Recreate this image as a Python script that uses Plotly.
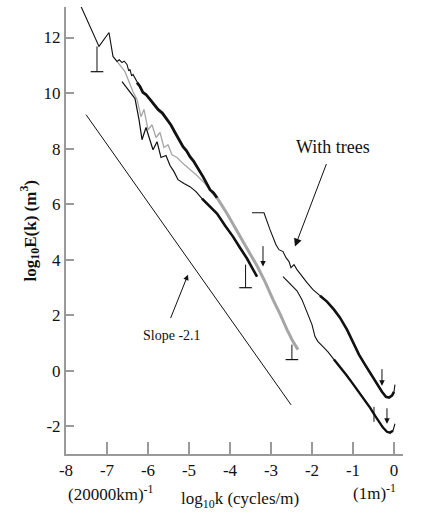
import plotly.graph_objects as go

# ---------------- data ----------------
# Upper black spectrum (top-left, ends near x=-4.3)
upper_x = [-7.634, -7.195, -6.951, -6.854, -6.756, -6.700, -6.634, -6.580, -6.512, -6.470, -6.439, -6.400,
           -6.366, -6.320, -6.268, -6.200, -6.122, -6.050, -5.951, -5.860, -5.756, -5.650, -5.537, -5.440,
           -5.341, -5.250, -5.146, -5.060, -4.976, -4.890, -4.805, -4.730, -4.659, -4.570, -4.488, -4.400, -4.317]
upper_y = [13.12, 11.68, 12.18, 11.32, 11.14, 11.20, 11.10, 11.15, 11.03, 10.80, 10.85, 10.62,
           10.67, 10.55, 10.38, 10.25, 10.02, 9.95, 9.77, 9.60, 9.41, 9.28, 9.05, 8.85,
           8.58, 8.35, 8.07, 7.92, 7.71, 7.55, 7.35, 7.18, 6.99, 6.75, 6.52, 6.40, 6.23]

# Grey spectrum
grey_x = [-6.756, -6.561, -6.366, -6.268, -6.171, -6.098, -6.000, -5.902, -5.805, -5.707, -5.610, -5.512,
          -5.415, -5.293, -5.146, -4.976, -4.805, -4.610, -4.439, -4.317, -4.073, -3.829, -3.585, -3.341,
          -3.146, -2.951, -2.780, -2.610, -2.463, -2.341]
grey_y = [11.14, 10.77, 10.05, 9.77, 9.15, 9.41, 8.68, 8.86, 8.40, 8.58, 8.04, 8.14,
          7.78, 7.68, 7.46, 7.24, 7.03, 6.74, 6.45, 6.23, 5.66, 5.01, 4.40, 3.78,
          3.21, 2.56, 2.05, 1.48, 1.05, 0.76]

# Lower black spectrum
lower_x = [-6.634, -6.488, -6.317, -6.220, -6.146, -6.049, -5.951, -5.878, -5.780, -5.683, -5.561, -5.463,
           -5.366, -5.268, -5.122, -4.976, -4.829, -4.683, -4.512, -4.317, -4.122, -3.927, -3.756, -3.585,
           -3.463, -3.341]
lower_y = [10.41, 10.13, 9.80, 9.05, 8.32, 8.76, 8.32, 7.96, 8.25, 7.68, 7.75, 7.39,
           7.17, 6.88, 6.74, 6.63, 6.45, 6.20, 5.95, 5.66, 5.23, 4.83, 4.43, 4.04,
           3.71, 3.39]

# "With trees" spectrum (upper right)
trees_x = [-3.463, -3.171, -3.024, -2.878, -2.805, -2.707, -2.634, -2.561, -2.512, -2.439, -2.366, -2.244,
           -2.122, -1.976, -1.805, -1.634, -1.463, -1.317, -1.146, -1.000, -0.854, -0.707, -0.561, -0.415,
           -0.293, -0.195, -0.122, -0.049, 0.000, 0.024]
trees_y = [5.69, 5.69, 5.08, 4.54, 4.36, 4.29, 4.07, 3.93, 3.71, 3.82, 3.64, 3.39,
           3.17, 2.92, 2.70, 2.49, 2.20, 1.91, 1.48, 1.05, 0.58, 0.22, -0.14, -0.50,
           -0.76, -0.94, -0.97, -0.90, -0.76, -0.50]

# Lower right spectrum (without trees)
bare_x = [-2.707, -2.537, -2.366, -2.244, -2.146, -2.073, -2.000, -1.927, -1.854, -1.756, -1.610, -1.463,
          -1.317, -1.171, -1.024, -0.878, -0.732, -0.585, -0.463, -0.366, -0.268, -0.171, -0.098, -0.024, 0.024]
bare_y = [3.39, 3.14, 2.88, 2.56, 2.20, 1.91, 1.66, 1.23, 1.05, 0.90, 0.68, 0.40,
          0.14, -0.14, -0.43, -0.72, -1.01, -1.33, -1.62, -1.84, -2.05, -2.20, -2.23, -2.16, -1.91]

# Reference line of slope -2.1
slope_x = [-7.51, -2.51]
slope_y = [9.22, -1.23]

# Error bars (x, top, bottom)
err_x = [-7.244, -3.620, -2.490]
err_top = [11.68, 3.82, 0.94]
err_bottom = [10.77, 2.99, 0.40]

# Small down arrows (x, tail y, head y)
darrow_x = [-3.195, -0.293, -0.171]
darrow_tail = [4.54, 0.11, -1.30]
darrow_head = [3.75, -0.54, -1.91]

# small vertical mark on lower curve
mark_x = [-0.488]
mark_top = [-1.30]
mark_bottom = [-1.84]

x_ticks = [-8, -7, -6, -5, -4, -3, -2, -1, 0]
x_ticktext = ["-8", "-7", "-6", "-5", "-4", "-3", "-2", "-1", "0"]
y_ticks = [-2, 0, 2, 4, 6, 8, 10, 12]
y_ticktext = ["-2", "0", "2", "4", "6", "8", "10", "12"]

FONT = "Liberation Serif, Times New Roman, serif"
BLACK = "#111111"
GREY = "#a6a6a6"
AXIS = "#9a9a9a"

fig = go.Figure()


def add_line(xs, ys, color, width):
    fig.add_trace(go.Scatter(x=xs, y=ys, mode="lines", line=dict(color=color, width=width),
                             hoverinfo="skip", showlegend=False))


def subset(xs, ys, lo, hi):
    pts = [(a, b) for a, b in zip(xs, ys) if lo <= a <= hi]
    return [p[0] for p in pts], [p[1] for p in pts]


# slope line
add_line(slope_x, slope_y, BLACK, 1)

# grey curve: thin noisy part, thick smooth tail
gx, gy = subset(grey_x, grey_y, -7, -4.3)
add_line(gx, gy, GREY, 1.3)
gx, gy = subset(grey_x, grey_y, -4.45, 0)
add_line(gx, gy, GREY, 3)

# lower black
add_line(lower_x, lower_y, BLACK, 1.2)
lx, ly = subset(lower_x, lower_y, -4.7, 0)
add_line(lx, ly, BLACK, 2.6)

# upper black
add_line(upper_x, upper_y, BLACK, 1.1)
ux, uy = subset(upper_x, upper_y, -6.3, 0)
add_line(ux, uy, BLACK, 2.8)

# with trees
add_line(trees_x, trees_y, BLACK, 1.1)
tx, ty = subset(trees_x, trees_y, -1.9, 0.01)
add_line(tx, ty, BLACK, 2.6)

# bare
add_line(bare_x, bare_y, BLACK, 1.1)
bx, by = subset(bare_x, bare_y, -1.5, 0.01)
add_line(bx, by, BLACK, 2.4)

# error bars
ex, ey = [], []
for x0, t, b in zip(err_x, err_top, err_bottom):
    ex += [x0, x0, None]
    ey += [t, b, None]
fig.add_trace(go.Scatter(x=ex, y=ey, mode="lines", line=dict(color=BLACK, width=1),
                         hoverinfo="skip", showlegend=False))
fig.add_trace(go.Scatter(x=err_x, y=err_bottom, mode="markers",
                         marker=dict(symbol="line-ew", size=9, line=dict(color=BLACK, width=1.2)),
                         hoverinfo="skip", showlegend=False))

# vertical mark
mx, my = [], []
for x0, t, b in zip(mark_x, mark_top, mark_bottom):
    mx += [x0, x0, None]
    my += [t, b, None]
fig.add_trace(go.Scatter(x=mx, y=my, mode="lines", line=dict(color=BLACK, width=1),
                         hoverinfo="skip", showlegend=False))

annotations = []
for x0, t, h in zip(darrow_x, darrow_tail, darrow_head):
    annotations.append(dict(x=x0, y=h, ax=x0, ay=t, xref="x", yref="y", axref="x", ayref="y",
                            text="", showarrow=True, arrowhead=2, arrowsize=1.1, arrowwidth=1,
                            arrowcolor=BLACK))

# With trees label + arrow
annotations.append(dict(x=-2.415, y=4.47, ax=-1.634, ay=7.50, xref="x", yref="y", axref="x", ayref="y",
                        text="", showarrow=True, arrowhead=2, arrowsize=1.6, arrowwidth=1,
                        arrowcolor=BLACK))
annotations.append(dict(x=-1.49, y=8.04, xref="x", yref="y", text="With trees", showarrow=False,
                        font=dict(family=FONT, size=18, color=BLACK)))

# Slope label + arrow
annotations.append(dict(x=-5.024, y=3.46, ax=-5.463, ay=1.84, xref="x", yref="y", axref="x", ayref="y",
                        text="", showarrow=True, arrowhead=2, arrowsize=1.1, arrowwidth=1,
                        arrowcolor=BLACK))
annotations.append(dict(x=-5.41, y=1.26, xref="x", yref="y", text="Slope -2.1", showarrow=False,
                        font=dict(family=FONT, size=14, color=BLACK)))

# axis titles and end labels
annotations.append(dict(x=0.516, y=-0.102, xref="paper", yref="paper", showarrow=False,
                        text="log<sub>10</sub>k (cycles/m)", yanchor="middle",
                        font=dict(family=FONT, size=17, color=BLACK)))
annotations.append(dict(x=0.0, y=-0.087, xref="paper", yref="paper", showarrow=False,
                        text="(20000km)<sup>-1</sup>", yanchor="middle",
                        font=dict(family=FONT, size=17, color=BLACK)))
annotations.append(dict(x=0.985, y=-0.084, xref="paper", yref="paper", showarrow=False,
                        text="(1m)<sup>-1</sup>", yanchor="middle",
                        font=dict(family=FONT, size=17, color=BLACK)))
annotations.append(dict(x=-0.107, y=0.50, xref="paper", yref="paper", showarrow=False,
                        text="<b>log<sub>10</sub>E(k) (m<sup>3</sup>)</b>", textangle=-90,
                        xanchor="center", yanchor="middle",
                        font=dict(family=FONT, size=17, color=BLACK)))

fig.update_layout(
    width=424, height=522,
    margin=dict(l=66, r=21, t=7, b=68),
    paper_bgcolor="white", plot_bgcolor="white",
    showlegend=False,
    annotations=annotations,
    xaxis=dict(range=[-8, 0.22], tickvals=x_ticks, ticktext=x_ticktext, ticks="inside", ticklen=12,
               tickwidth=1.5, tickcolor=AXIS, showline=True, linecolor=AXIS, linewidth=2,
               showgrid=False, zeroline=False, tickfont=dict(family=FONT, size=17, color=BLACK)),
    yaxis=dict(range=[-3, 13.1], tickvals=y_ticks, ticktext=y_ticktext, ticks="inside", ticklen=8,
               tickwidth=1.5, tickcolor=AXIS, showline=True, linecolor=AXIS, linewidth=2,
               showgrid=False, zeroline=False, tickfont=dict(family=FONT, size=17, color=BLACK)),
)

fig.write_html("out.html")
